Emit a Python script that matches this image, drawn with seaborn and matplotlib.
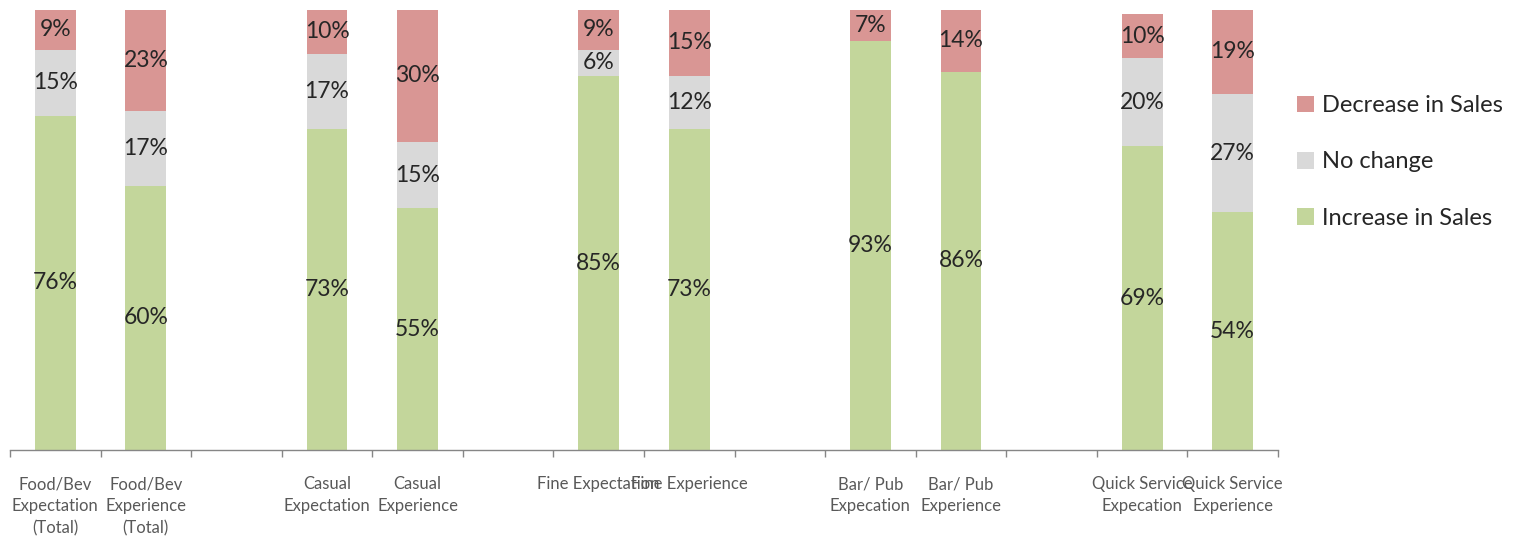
import numpy as np
import pandas as pd
import matplotlib
matplotlib.use("Agg")
import matplotlib.pyplot as plt
import seaborn as sns
from matplotlib.patches import Patch

# Slot positions along the axis (empty slots separate the segments)
positions = [0, 1, 3, 4, 6, 7, 9, 10, 12, 13]
tick_labels = [
    "Food/Bev\nExpectation\n(Total)", "Food/Bev\nExperience\n(Total)",
    "Casual\nExpectation", "Casual\nExperience",
    "Fine Expectation", "Fine Experience",
    "Bar/ Pub\nExpecation", "Bar/ Pub\nExperience",
    "Quick Service\nExpecation", "Quick Service\nExperience",
]
increase = [76, 60, 73, 55, 85, 73, 93, 86, 69, 54]
no_change = [15, 17, 17, 15, 6, 12, 0, 0, 20, 27]
decrease = [9, 23, 10, 30, 9, 15, 7, 14, 10, 19]

series_names = ["Decrease in Sales", "No change", "Increase in Sales"]
colors = {"Increase in Sales": "#C3D69B", "No change": "#D9D9D9",
          "Decrease in Sales": "#D99694"}

sns.set_theme(style="white")
plt.rcParams["font.family"] = ["Lato", "DejaVu Sans"]

df = pd.DataFrame({"pos": positions, "inc": increase, "nc": no_change, "dec": decrease})
df["top_nc"] = df["inc"] + df["nc"]
df["top_dec"] = df["top_nc"] + df["dec"]

fig = plt.figure(figsize=(15.14, 5.4), dpi=100)
ax = fig.add_axes([10 / 1514, 1 - 450 / 540, (1278 - 10) / 1514, 440 / 540])

# Stacked bars drawn as overlapping cumulative totals
for col, name in [("top_dec", "Decrease in Sales"), ("top_nc", "No change"),
                  ("inc", "Increase in Sales")]:
    sns.barplot(data=df, x="pos", y=col, native_scale=True, width=0.45,
                color=colors[name], saturation=1, linewidth=0, ax=ax)

# Segment value labels
for _, r in df.iterrows():
    segs = [(0, r["inc"]), (r["inc"], r["nc"]), (r["top_nc"], r["dec"])]
    for base, val in segs:
        if val > 0:
            ax.text(r["pos"], base + val / 2, f"{int(val)}%", ha="center",
                    va="center", fontsize=16.5, color="#262626")

ax.set_xlim(-0.5, 13.5)
ax.set_ylim(0, 100)
ax.set_xlabel("")
ax.set_ylabel("")
ax.set_yticks([])

# Tick marks at slot boundaries, labels under the bars
ax.set_xticks(np.arange(-0.5, 14, 1.0))
ax.set_xticklabels([])
ax.tick_params(axis="x", which="major", length=5, width=1, color="#868686",
               direction="out", bottom=True)
ax.set_xticks(positions, minor=True)
ax.set_xticklabels(tick_labels, minor=True, fontsize=12, color="#595959",
                   linespacing=1.45)
ax.tick_params(axis="x", which="minor", length=0, pad=19)

for s in ["top", "right", "left"]:
    ax.spines[s].set_visible(False)
ax.spines["bottom"].set_color("#868686")
ax.spines["bottom"].set_linewidth(1)

handles = [Patch(facecolor=colors[n], edgecolor="none", label=n) for n in series_names]
fig.legend(handles=handles, loc="center left", bbox_to_anchor=(1276 / 1514, 1 - 162 / 540),
           frameon=False, fontsize=17, handlelength=0.7, handleheight=0.7,
           handletextpad=0.35, labelspacing=1.5)

fig.savefig("out.png", dpi=100)
